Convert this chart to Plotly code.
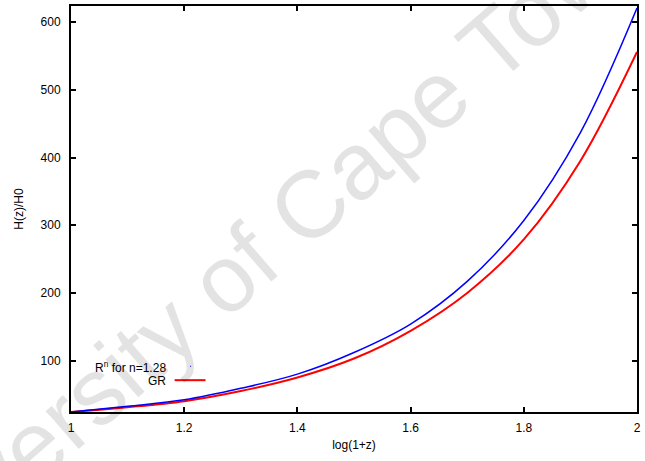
import plotly.graph_objects as go

# x = log(1+z)
log1pz = [1.0, 1.1, 1.2, 1.3, 1.4, 1.5, 1.6, 1.7, 1.8, 1.9, 2.0]
# H(z)/H0 for R^n gravity, n = 1.28 (blue)
h_rn = [24, 32.5, 42, 59, 80, 112, 154, 217, 307, 437, 621]
# H(z)/H0 for GR (red)
h_gr = [24, 31, 40, 55, 75, 103, 144, 200, 279, 395, 556]

x_ticks = [1.0, 1.2, 1.4, 1.6, 1.8, 2.0]
x_ticklabels = ["1", "1.2", "1.4", "1.6", "1.8", "2"]
y_ticks = [100, 200, 300, 400, 500, 600]

FONT = "Liberation Sans, Arial, Helvetica, sans-serif"

fig = go.Figure()
fig.add_trace(go.Scatter(x=log1pz, y=h_gr, mode="lines", name="GR",
                         line=dict(color="#ff0000", width=2, shape="spline"),
                         showlegend=False))
fig.add_trace(go.Scatter(x=log1pz, y=h_rn, mode="lines", name="R^n for n=1.28",
                         line=dict(color="#0000ff", width=1.5, shape="spline"),
                         showlegend=False))

axis_common = dict(showline=True, linecolor="black", linewidth=2, mirror="ticks",
                   ticks="inside", ticklen=5, tickwidth=2, tickcolor="black",
                   showgrid=False, zeroline=False,
                   tickfont=dict(family=FONT, size=12, color="black"))

fig.update_xaxes(range=[1, 2], tickvals=x_ticks, ticktext=x_ticklabels,
                 ticklabelstandoff=4,
                 title=dict(text="log(1+z)", font=dict(family=FONT, size=12, color="black"),
                            standoff=6),
                 **axis_common)
fig.update_yaxes(range=[24, 624], tickvals=y_ticks,
                 ticklabelstandoff=6,
                 title=dict(text="H(z)/H0", font=dict(family=FONT, size=12, color="black"),
                            standoff=14),
                 **axis_common)

annotations = [
    dict(text="University of Cape Town", xref="paper", yref="paper",
         x=0.325, y=0.395, xanchor="center", yanchor="middle", showarrow=False,
         textangle=-41, font=dict(family=FONT, size=95, color="rgba(0,0,0,0.11)")),
    dict(text="R<sup>n</sup> for n=1.28", xref="paper", yref="paper",
         x=0.1708, y=0.112, xanchor="right", yanchor="middle", showarrow=False,
         font=dict(family=FONT, size=12, color="black")),
    dict(text="GR", xref="paper", yref="paper",
         x=0.1708, y=0.076, xanchor="right", yanchor="middle", showarrow=False,
         font=dict(family=FONT, size=12, color="black")),
]

shapes = [
    dict(type="line", xref="paper", yref="paper", x0=0.1831, x1=0.2377,
         y0=0.0784, y1=0.0784, line=dict(color="#ff0000", width=2)),
    dict(type="rect", xref="paper", yref="paper", x0=0.2104, x1=0.2122,
         y0=0.1115, y1=0.1139, line=dict(width=0), fillcolor="#0000ff"),
]

fig.update_layout(width=645, height=461, autosize=False,
                  margin=dict(l=71, r=6, t=4, b=49),
                  paper_bgcolor="white", plot_bgcolor="white",
                  annotations=annotations, shapes=shapes,
                  font=dict(family=FONT, size=12, color="black"))

fig.write_html("out.html")
